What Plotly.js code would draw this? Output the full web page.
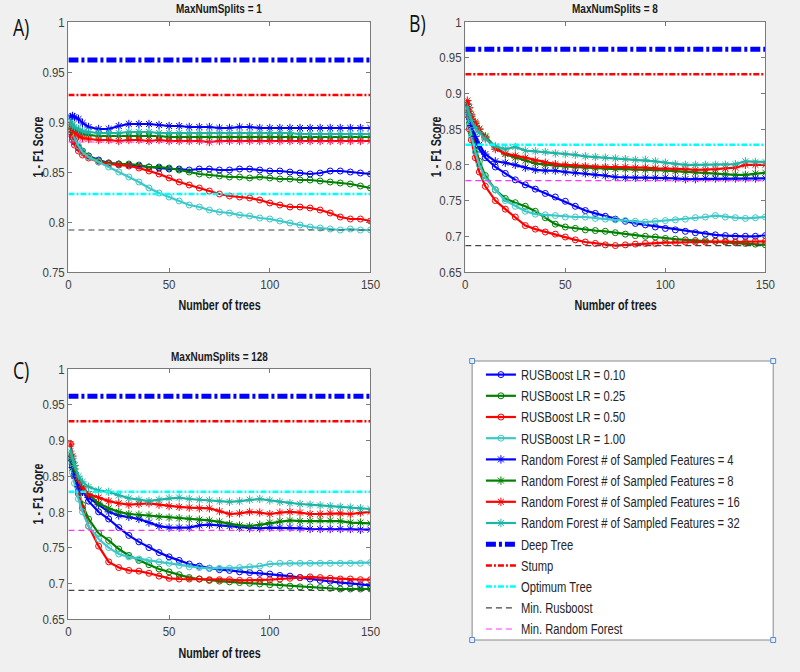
<!DOCTYPE html>
<html><head><meta charset="utf-8">
<script src="https://cdn.plot.ly/plotly-3.0.1.min.js"></script>
<style>html,body{margin:0;padding:0;background:#f0f0f0}#chart{width:800px;height:672px}</style>
</head><body><div id="chart"></div><script>
// ---------- data ----------
const trees = [1,2,3,5,7,10,15,20,25,30,35,40,45,50,55,60,65,70,75,80,85,90,95,100,105,110,115,120,125,130,135,140,145,150];

const panelTitles = ['MaxNumSplits = 1','MaxNumSplits = 8','MaxNumSplits = 128'];
const panelLabels = ['A)','B)','C)'];
const xTicks = [0,50,100,150];
const yTicksA = [0.75,0.8,0.85,0.9,0.95,1];
const yTicksBC = [0.65,0.7,0.75,0.8,0.85,0.9,0.95,1];
const yTickTextA = ['0.75','0.8','0.85','0.9','0.95','1'];
const yTickTextBC = ['0.65','0.7','0.75','0.8','0.85','0.9','0.95','1'];

const seriesNames = ['RUSBoost LR = 0.10','RUSBoost LR = 0.25','RUSBoost LR = 0.50','RUSBoost LR = 1.00',
  'Random Forest # of Sampled Features = 4','Random Forest # of Sampled Features = 8',
  'Random Forest # of Sampled Features = 16','Random Forest # of Sampled Features = 32'];
const refNames = ['Deep Tree','Stump','Optimum Tree','Min. Rusboost','Min. Random Forest'];

// Panel A (MaxNumSplits = 1)
const rusA_010 = [0.890,0.885,0.880,0.874,0.870,0.866,0.862,0.859,0.858,0.857,0.856,0.855,0.854,0.853,0.853,0.852,0.853,0.853,0.852,0.852,0.853,0.853,0.852,0.851,0.851,0.850,0.849,0.848,0.849,0.851,0.851,0.850,0.849,0.848];
const rusA_025 = [0.892,0.886,0.881,0.875,0.871,0.866,0.861,0.859,0.858,0.858,0.857,0.855,0.855,0.854,0.852,0.850,0.848,0.847,0.846,0.845,0.845,0.844,0.845,0.844,0.843,0.843,0.842,0.842,0.841,0.840,0.839,0.838,0.836,0.834];
const rusA_050 = [0.888,0.882,0.877,0.871,0.867,0.864,0.860,0.858,0.857,0.856,0.854,0.851,0.848,0.844,0.840,0.837,0.834,0.831,0.828,0.826,0.825,0.824,0.822,0.819,0.817,0.815,0.815,0.814,0.812,0.809,0.805,0.803,0.803,0.801];
const rusA_100 = [0.905,0.893,0.884,0.876,0.870,0.865,0.860,0.855,0.850,0.845,0.840,0.834,0.829,0.825,0.821,0.817,0.815,0.812,0.810,0.809,0.807,0.806,0.804,0.803,0.801,0.799,0.797,0.795,0.794,0.793,0.792,0.793,0.792,0.792];
const rfA_4  = [0.905,0.906,0.905,0.903,0.899,0.895,0.893,0.893,0.896,0.898,0.898,0.898,0.897,0.896,0.896,0.895,0.895,0.895,0.894,0.894,0.895,0.895,0.894,0.894,0.894,0.894,0.894,0.894,0.894,0.894,0.894,0.894,0.894,0.894];
const rfA_8  = [0.895,0.893,0.892,0.890,0.888,0.887,0.886,0.886,0.886,0.886,0.886,0.886,0.886,0.885,0.885,0.885,0.885,0.885,0.885,0.885,0.885,0.885,0.885,0.885,0.885,0.885,0.885,0.885,0.885,0.885,0.885,0.885,0.885,0.885];
const rfA_16 = [0.898,0.893,0.890,0.886,0.884,0.883,0.882,0.882,0.881,0.882,0.882,0.881,0.882,0.881,0.881,0.881,0.881,0.880,0.881,0.881,0.881,0.881,0.881,0.881,0.881,0.881,0.881,0.881,0.881,0.881,0.881,0.881,0.881,0.881];
const rfA_32 = [0.900,0.897,0.895,0.893,0.891,0.890,0.889,0.889,0.889,0.890,0.890,0.890,0.889,0.889,0.889,0.889,0.889,0.889,0.889,0.889,0.889,0.889,0.889,0.889,0.889,0.889,0.888,0.888,0.888,0.888,0.888,0.888,0.888,0.888];

// Panel B (MaxNumSplits = 8)
const rusB_010 = [0.880,0.865,0.852,0.835,0.822,0.810,0.797,0.788,0.779,0.772,0.766,0.760,0.755,0.749,0.742,0.736,0.732,0.728,0.724,0.721,0.718,0.716,0.713,0.711,0.709,0.707,0.705,0.703,0.702,0.701,0.700,0.700,0.700,0.701];
const rusB_025 = [0.870,0.858,0.845,0.825,0.805,0.785,0.765,0.753,0.747,0.742,0.735,0.726,0.717,0.713,0.711,0.709,0.708,0.707,0.705,0.703,0.701,0.700,0.699,0.697,0.696,0.695,0.694,0.694,0.693,0.692,0.691,0.690,0.689,0.688];
const rusB_050 = [0.870,0.850,0.835,0.810,0.790,0.770,0.750,0.738,0.727,0.715,0.710,0.706,0.703,0.699,0.695,0.692,0.690,0.688,0.687,0.688,0.689,0.690,0.690,0.691,0.691,0.692,0.692,0.692,0.693,0.693,0.692,0.692,0.693,0.693];
const rusB_100 = [0.875,0.855,0.840,0.818,0.800,0.782,0.765,0.750,0.742,0.735,0.731,0.730,0.729,0.727,0.727,0.727,0.725,0.724,0.723,0.722,0.721,0.720,0.721,0.722,0.723,0.724,0.726,0.727,0.729,0.727,0.726,0.725,0.726,0.727];
const rfB_4  = [0.885,0.870,0.855,0.840,0.828,0.815,0.805,0.803,0.800,0.796,0.793,0.792,0.792,0.790,0.789,0.788,0.786,0.785,0.783,0.782,0.782,0.782,0.782,0.782,0.781,0.780,0.780,0.781,0.781,0.781,0.781,0.781,0.781,0.781];
const rfB_8  = [0.885,0.875,0.868,0.858,0.850,0.840,0.825,0.815,0.810,0.806,0.802,0.800,0.799,0.798,0.797,0.796,0.795,0.795,0.794,0.794,0.793,0.793,0.793,0.792,0.791,0.790,0.789,0.789,0.788,0.787,0.786,0.786,0.788,0.789];
const rfB_16 = [0.890,0.880,0.870,0.860,0.850,0.838,0.822,0.816,0.813,0.810,0.806,0.803,0.801,0.800,0.799,0.798,0.797,0.797,0.797,0.797,0.796,0.796,0.795,0.795,0.794,0.794,0.793,0.793,0.794,0.795,0.796,0.800,0.800,0.800];
const rfB_32 = [0.880,0.870,0.862,0.852,0.845,0.836,0.826,0.822,0.825,0.820,0.819,0.818,0.816,0.815,0.814,0.812,0.811,0.810,0.809,0.808,0.807,0.807,0.805,0.803,0.801,0.800,0.800,0.800,0.800,0.800,0.801,0.805,0.804,0.804];

// Panel C (MaxNumSplits = 128)
const rusC_010 = [0.875,0.865,0.855,0.840,0.830,0.815,0.800,0.790,0.778,0.767,0.758,0.750,0.743,0.737,0.732,0.727,0.724,0.721,0.719,0.718,0.716,0.715,0.714,0.713,0.711,0.710,0.708,0.706,0.704,0.703,0.701,0.700,0.698,0.697];
const rusC_025 = [0.875,0.862,0.850,0.830,0.810,0.790,0.770,0.760,0.748,0.739,0.732,0.726,0.720,0.716,0.712,0.708,0.706,0.704,0.703,0.702,0.701,0.700,0.699,0.698,0.697,0.696,0.695,0.695,0.694,0.693,0.692,0.692,0.692,0.692];
const rusC_050 = [0.895,0.870,0.850,0.825,0.805,0.780,0.752,0.730,0.722,0.718,0.717,0.714,0.710,0.707,0.706,0.706,0.706,0.705,0.705,0.705,0.704,0.704,0.704,0.705,0.706,0.707,0.708,0.709,0.708,0.707,0.706,0.706,0.705,0.705];
const rusC_100 = [0.870,0.855,0.840,0.818,0.800,0.780,0.762,0.750,0.741,0.737,0.734,0.732,0.730,0.728,0.725,0.723,0.722,0.721,0.721,0.721,0.722,0.723,0.724,0.727,0.728,0.728,0.728,0.728,0.728,0.728,0.728,0.728,0.728,0.729];
const rfC_4  = [0.875,0.862,0.850,0.835,0.828,0.820,0.810,0.800,0.795,0.793,0.790,0.785,0.780,0.778,0.778,0.778,0.781,0.782,0.781,0.780,0.778,0.777,0.777,0.778,0.778,0.778,0.777,0.776,0.776,0.776,0.776,0.776,0.775,0.775];
const rfC_8  = [0.880,0.870,0.860,0.845,0.835,0.825,0.812,0.805,0.800,0.797,0.796,0.795,0.793,0.792,0.791,0.790,0.789,0.788,0.786,0.783,0.781,0.780,0.782,0.785,0.787,0.788,0.787,0.787,0.788,0.788,0.787,0.785,0.785,0.784];
const rfC_16 = [0.895,0.878,0.865,0.845,0.835,0.825,0.820,0.815,0.812,0.810,0.811,0.812,0.810,0.808,0.807,0.806,0.805,0.805,0.801,0.797,0.798,0.800,0.799,0.797,0.799,0.800,0.799,0.797,0.797,0.798,0.798,0.797,0.799,0.800];
const rfC_32 = [0.885,0.875,0.865,0.850,0.842,0.835,0.830,0.828,0.823,0.819,0.817,0.815,0.817,0.819,0.820,0.818,0.817,0.816,0.815,0.814,0.815,0.817,0.818,0.816,0.814,0.812,0.811,0.810,0.809,0.808,0.807,0.806,0.805,0.804];

// Reference lines, one value per panel [A, B, C]
const deepTree        = [0.962, 0.962, 0.962];
const stump           = [0.927, 0.927, 0.927];
const optimumTree     = [0.828, 0.828, 0.828];
const minRusboost     = [0.792, 0.687, 0.690];
const minRandomForest = [0.880, 0.778, 0.774];

// ---------- styling ----------
const SANS = '"Liberation Sans", Arial, sans-serif';
const seriesColors = ['#0000ff','#008000','#ff0000','#3cc8c8','#0000ff','#008000','#ff0000','#1fb5a5'];
const refStyles = [
  {color:'#0000ff', width:5, dash:'10px,3px,3px,3px'},
  {color:'#ff0000', width:2.5, dash:'6px,2px,2px,2px'},
  {color:'#00ffff', width:2.5, dash:'6px,2px,2px,2px'},
  {color:'#444444', width:1.2, dash:'6px,4px'},
  {color:'#ff33ff', width:1.2, dash:'6px,4px'}
];

const panels = [
  {series:[rusA_010,rusA_025,rusA_050,rusA_100,rfA_4,rfA_8,rfA_16,rfA_32], xa:'x', ya:'y'},
  {series:[rusB_010,rusB_025,rusB_050,rusB_100,rfB_4,rfB_8,rfB_16,rfB_32], xa:'x2', ya:'y2'},
  {series:[rusC_010,rusC_025,rusC_050,rusC_100,rfC_4,rfC_8,rfC_16,rfC_32], xa:'x3', ya:'y3'}
];
const refs = [deepTree, stump, optimumTree, minRusboost, minRandomForest];

const traces = [];
panels.forEach((p, pi) => {
  p.series.forEach((vals, si) => {
    const isRus = si < 4;
    traces.push({
      type:'scatter', mode:'lines+markers', x:trees, y:vals, name:seriesNames[si],
      xaxis:p.xa, yaxis:p.ya, showlegend: pi === 0, hoverinfo:'skip',
      line:{color:seriesColors[si], width:2.2},
      marker:{symbol: isRus ? 'circle-open' : 'asterisk-open', size: isRus ? 6 : 7,
              color:seriesColors[si], line:{color:seriesColors[si], width:1}}
    });
  });
  refs.forEach((arr, ri) => {
    traces.push({
      type:'scatter', mode:'lines', x:[0,150], y:[arr[pi], arr[pi]], name:refNames[ri],
      xaxis:p.xa, yaxis:p.ya, showlegend: pi === 0, hoverinfo:'skip',
      line:refStyles[ri]
    });
  });
});

function xAxis(domain, anchor) {
  return {domain, anchor, range:[0,150], tickvals:xTicks, ticks:'inside', ticklen:4,
    showline:true, mirror:'ticks', linecolor:'#7a7a7a', tickcolor:'#7a7a7a', linewidth:1,
    showgrid:false, zeroline:false, fixedrange:true,
    tickfont:{family:SANS, size:13.5, color:'#404040'}};
}
function yAxis(domain, anchor, range, tv, tt) {
  return {domain, anchor, range, tickvals:tv, ticktext:tt, ticks:'inside', ticklen:4,
    showline:true, mirror:'ticks', linecolor:'#7a7a7a', tickcolor:'#7a7a7a', linewidth:1,
    showgrid:false, zeroline:false, fixedrange:true,
    tickfont:{family:SANS, size:13.5, color:'#404040'}};
}

const W = 800, H = 672;
const px = v => v / W, py = v => 1 - v / H;

const ann = [];
function addText(text, x, y, size, opts) {
  ann.push(Object.assign({text, x:px(x), y:py(y), xref:'paper', yref:'paper', showarrow:false,
    xanchor:'center', yanchor:'middle', font:{family:SANS, size, color:'#1a1a1a'}}, opts || {}));
}
// subplot titles
addText('<b>' + panelTitles[0] + '</b>', 224.5, 9, 13.5);
addText('<b>' + panelTitles[1] + '</b>', 629.5, 9, 13.5);
addText('<b>' + panelTitles[2] + '</b>', 224.5, 356, 13.5);
// x titles
addText('<b>Number of trees</b>', 224.5, 305, 14.5);
addText('<b>Number of trees</b>', 629.5, 305, 14.5);
addText('<b>Number of trees</b>', 224.5, 653, 14.5);
// y titles
addText('<b>1 - F1 Score</b>', 39, 147, 14.5, {textangle:-90});
addText('<b>1 - F1 Score</b>', 446, 147, 14.5, {textangle:-90});
addText('<b>1 - F1 Score</b>', 39, 494, 14.5, {textangle:-90});
// panel labels
const lblFont = {family:'"Open Sans", "Liberation Sans", sans-serif', size:24, color:'#111'};
addText(panelLabels[0], 21, 27, 24, {font:lblFont});
addText(panelLabels[1], 427, 23, 24, {font:lblFont});
addText(panelLabels[2], 21, 369, 24, {font:lblFont});

// legend box + corner handles
const shapes = [{type:'rect', xref:'paper', yref:'paper', x0:px(483), x1:px(791), y0:py(640), y1:py(361),
  line:{color:'#8a8a8a', width:1}, fillcolor:'#ffffff', layer:'below'}];
[[483,361],[791,361],[483,640],[791,640]].forEach(([cx,cy]) => {
  shapes.push({type:'rect', xref:'paper', yref:'paper', x0:px(cx-2.5), x1:px(cx+2.5), y0:py(cy+2.5), y1:py(cy-2.5),
    line:{color:'#5a8ac8', width:1}, fillcolor:'#e8f0ff', layer:'above'});
});

const layout = {
  width:W, height:H, margin:{l:0,r:0,t:0,b:0},
  paper_bgcolor:'#f0f0f0', plot_bgcolor:'#ffffff',
  xaxis: xAxis([px(70), px(379)], 'y'),
  yaxis: yAxis([py(272), py(22)], 'x', [0.75,1], yTicksA, yTickTextA),
  xaxis2: xAxis([px(476), px(783)], 'y2'),
  yaxis2: yAxis([py(272), py(22)], 'x2', [0.65,1], yTicksBC, yTickTextBC),
  xaxis3: xAxis([px(70), px(379)], 'y3'),
  yaxis3: yAxis([py(619), py(369)], 'x3', [0.65,1], yTicksBC, yTickTextBC),
  showlegend:true,
  legend:{x:px(492), y:py(359), xanchor:'left', yanchor:'top', bgcolor:'rgba(0,0,0,0)', borderwidth:0,
    font:{family:SANS, size:14, color:'#262626'}, itemwidth:30, tracegroupgap:0},
  annotations:ann, shapes:shapes
};

// horizontally condense text (the reference uses a narrow typeface)
function condense(sel, f) {
  document.querySelectorAll(sel).forEach(t => {
    const L = t.getComputedTextLength();
    if (L > 0) { t.setAttribute('textLength', (L * f).toFixed(1)); t.setAttribute('lengthAdjust', 'spacingAndGlyphs'); }
  });
}

Plotly.newPlot('chart', traces, layout, {staticPlot:true, displayModeBar:false}).then(() => {
  condense('.legend text.legendtext', 0.8);
  condense('.annotation-text-g text.annotation-text', 0.74);
  condense('.xtick text, .ytick text, .x2tick text, .y2tick text, .x3tick text, .y3tick text', 0.85);
});
</script></body></html>
